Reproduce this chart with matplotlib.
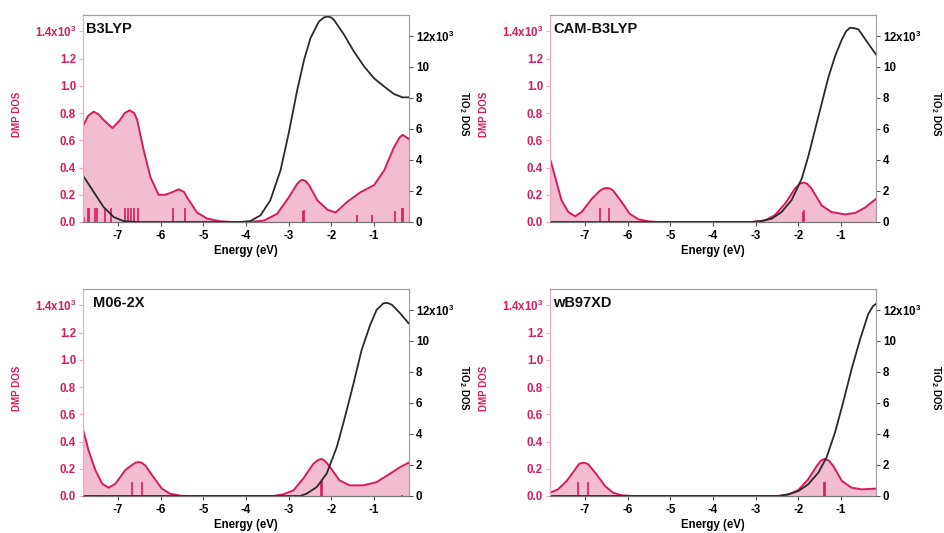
import numpy as np
import matplotlib
matplotlib.use("Agg")
import matplotlib.pyplot as plt

plt.rcParams['font.family'] = ['Liberation Sans', 'DejaVu Sans']
plt.rcParams['font.weight'] = 'bold'
plt.rcParams['axes.labelweight'] = 'bold'
plt.rcParams['mathtext.fontset'] = 'custom'
plt.rcParams['mathtext.rm'] = 'Liberation Sans:bold'
plt.rcParams['mathtext.bf'] = 'Liberation Sans:bold'
plt.rcParams['mathtext.default'] = 'rm'

# ---- data (energy in eV, DOS in units of 10^3) ----
titles = ['B3LYP', 'CAM-B3LYP', 'M06-2X', 'wB97XD']

b3lyp_dmp = [(-7.81, 0.71), (-7.70, 0.78), (-7.57, 0.81), (-7.45, 0.79), (-7.34, 0.75),
             (-7.13, 0.69), (-6.95, 0.75), (-6.84, 0.80), (-6.73, 0.82), (-6.62, 0.80),
             (-6.55, 0.75), (-6.40, 0.53), (-6.24, 0.33), (-6.05, 0.20), (-5.89, 0.20),
             (-5.72, 0.22), (-5.58, 0.24), (-5.45, 0.22), (-5.38, 0.18), (-5.15, 0.07),
             (-4.91, 0.025), (-4.60, 0.005), (-4.30, 0.0), (-3.97, 0.0), (-3.58, 0.01),
             (-3.27, 0.06), (-3.00, 0.18), (-2.80, 0.28), (-2.74, 0.30), (-2.68, 0.31),
             (-2.60, 0.30), (-2.52, 0.27), (-2.33, 0.16), (-2.09, 0.09), (-1.90, 0.07),
             (-1.62, 0.15), (-1.31, 0.22), (-1.00, 0.27), (-0.76, 0.38), (-0.53, 0.55),
             (-0.40, 0.62), (-0.33, 0.64), (-0.18, 0.61)]
b3lyp_tio2 = [(-7.81, 2.95), (-7.57, 1.94), (-7.34, 0.97), (-7.10, 0.32), (-6.87, 0.06),
              (-6.55, 0.0), (-4.13, 0.0), (-3.90, 0.06), (-3.66, 0.43), (-3.43, 1.4),
              (-3.19, 3.34), (-3.00, 5.71), (-2.80, 8.5), (-2.64, 10.45), (-2.49, 11.85),
              (-2.29, 12.93), (-2.17, 13.2), (-2.09, 13.25), (-2.01, 13.2), (-1.94, 13.04),
              (-1.70, 12.07), (-1.47, 10.99), (-1.23, 10.02), (-1.00, 9.27), (-0.76, 8.73),
              (-0.53, 8.25), (-0.33, 8.04), (-0.18, 8.04)]
b3lyp_sticks = [(-7.79, 0.04), (-7.71, 0.10), (-7.67, 0.10), (-7.53, 0.10), (-7.49, 0.10),
                (-7.30, 0.10), (-7.16, 0.10), (-6.84, 0.10), (-6.77, 0.10), (-6.69, 0.10),
                (-6.62, 0.10), (-6.54, 0.10), (-5.71, 0.10), (-5.43, 0.10), (-2.67, 0.08),
                (-2.65, 0.09), (-1.40, 0.05), (-1.04, 0.05), (-0.51, 0.08), (-0.35, 0.10),
                (-0.31, 0.10)]

cam_dmp = [(-7.82, 0.465), (-7.76, 0.40), (-7.70, 0.33), (-7.55, 0.16), (-7.39, 0.073),
           (-7.23, 0.042), (-7.08, 0.073), (-6.84, 0.17), (-6.65, 0.23), (-6.57, 0.245),
           (-6.49, 0.25), (-6.41, 0.245), (-6.34, 0.23), (-6.14, 0.147), (-5.95, 0.06),
           (-5.75, 0.02), (-5.52, 0.005), (-5.28, 0.0), (-3.09, 0.0), (-2.78, 0.012),
           (-2.55, 0.05), (-2.31, 0.135), (-2.08, 0.245), (-1.97, 0.28), (-1.88, 0.29),
           (-1.79, 0.28), (-1.69, 0.245), (-1.45, 0.12), (-1.22, 0.073), (-0.91, 0.056),
           (-0.67, 0.066), (-0.44, 0.105), (-0.18, 0.17)]
cam_tio2 = [(-7.82, 0.0), (-3.09, 0.0), (-2.86, 0.06), (-2.62, 0.22), (-2.39, 0.65),
            (-2.16, 1.4), (-1.92, 2.8), (-1.77, 4.2), (-1.61, 5.94), (-1.45, 7.67),
            (-1.30, 9.29), (-1.14, 10.69), (-0.98, 11.77), (-0.88, 12.3), (-0.79, 12.53),
            (-0.69, 12.5), (-0.59, 12.42), (-0.40, 11.66), (-0.18, 10.8)]
cam_sticks = [(-6.65, 0.10), (-6.43, 0.10), (-1.89, 0.07), (-1.86, 0.09)]

m06_dmp = [(-7.83, 0.50), (-7.76, 0.42), (-7.69, 0.334), (-7.53, 0.19), (-7.37, 0.09),
           (-7.22, 0.061), (-7.06, 0.09), (-6.83, 0.19), (-6.63, 0.237), (-6.58, 0.245),
           (-6.51, 0.249), (-6.44, 0.243), (-6.36, 0.224), (-6.17, 0.139), (-5.97, 0.054),
           (-5.78, 0.017), (-5.54, 0.002), (-5.30, 0.0), (-3.36, 0.0), (-3.13, 0.012),
           (-2.89, 0.041), (-2.66, 0.127), (-2.42, 0.237), (-2.32, 0.262), (-2.23, 0.273),
           (-2.14, 0.255), (-2.04, 0.217), (-1.81, 0.115), (-1.57, 0.078), (-1.25, 0.078),
           (-0.94, 0.102), (-0.63, 0.163), (-0.39, 0.212), (-0.19, 0.244)]
m06_tio2 = [(-7.83, 0.0), (-2.73, 0.0), (-2.58, 0.15), (-2.34, 0.58), (-2.11, 1.44),
            (-1.87, 3.17), (-1.68, 5.1), (-1.48, 7.26), (-1.29, 9.42), (-1.09, 11.03),
            (-0.94, 12.0), (-0.78, 12.43), (-0.68, 12.45), (-0.58, 12.33), (-0.39, 11.79),
            (-0.19, 11.14)]
m06_sticks = [(-6.67, 0.10), (-6.44, 0.10), (-2.24, 0.11), (-2.22, 0.11), (-0.35, 0.01)]

wb97_dmp = [(-7.82, 0.024), (-7.63, 0.049), (-7.43, 0.11), (-7.23, 0.195), (-7.14, 0.235),
            (-7.06, 0.244), (-6.99, 0.242), (-6.92, 0.232), (-6.73, 0.159), (-6.53, 0.073),
            (-6.34, 0.024), (-6.14, 0.005), (-5.90, 0.0), (-2.47, 0.0), (-2.23, 0.012),
            (-2.00, 0.044), (-1.77, 0.122), (-1.57, 0.22), (-1.47, 0.26), (-1.38, 0.273),
            (-1.29, 0.262), (-1.18, 0.22), (-0.98, 0.11), (-0.75, 0.061), (-0.52, 0.049),
            (-0.18, 0.054)]
wb97_tio2 = [(-7.82, 0.0), (-2.47, 0.0), (-2.23, 0.11), (-2.00, 0.32), (-1.77, 0.75),
             (-1.53, 1.51), (-1.34, 2.48), (-1.14, 4.1), (-0.95, 6.04), (-0.75, 8.2),
             (-0.55, 10.13), (-0.36, 11.75), (-0.25, 12.25), (-0.18, 12.39)]
wb97_sticks = [(-7.16, 0.10), (-6.92, 0.10), (-1.39, 0.10), (-1.37, 0.10)]

dmp_sets = [b3lyp_dmp, cam_dmp, m06_dmp, wb97_dmp]
tio2_sets = [b3lyp_tio2, cam_tio2, m06_tio2, wb97_tio2]
stick_sets = [b3lyp_sticks, cam_sticks, m06_sticks, wb97_sticks]

x_ticks = [-7, -6, -5, -4, -3, -2, -1]
left_ticks = [0.0, 0.2, 0.4, 0.6, 0.8, 1.0, 1.2, 1.4]
left_labels = ['0.0', '0.2', '0.4', '0.6', '0.8', '1.0', '1.2', r'1.4x10$^{3}$']
right_ticks = [0, 2, 4, 6, 8, 10, 12]
right_labels = ['0', '2', '4', '6', '8', '10', r'12x10$^{3}$']

# ---- styling ----
PINK = '#d81b60'
FILL = '#f2bcd1'
LSPINE = '#f4a6c6'
FRAME = '#a0a0a0'
xlim = (-7.82, -0.18)
ylim_l = (0, 1.52)
ylim_r = (0, 13.35)

W, H = 945, 533
fig = plt.figure(figsize=(W / 100, H / 100), dpi=100)
boxes = [(83, 15), (550, 15), (83, 289), (550, 289)]   # top-left corner in px
aw, ah = 326, 207
title_dx = [0.01, 0.01, 0.03, 0.01]
tio2_label_x = [1.168, 1.185, 1.168, 1.185]

for i in range(4):
    x0, y0 = boxes[i]
    ax = fig.add_axes([x0 / W, 1 - (y0 + ah) / H, aw / W, ah / H])
    ax2 = ax.twinx()

    e, d = np.array(dmp_sets[i]).T
    ax.fill_between(e, 0, d, color=FILL, lw=0)
    ax.plot(e, d, color=PINK, lw=1.4)
    se, sh = np.array(stick_sets[i]).T
    ax.vlines(se, 0, sh, color=PINK, lw=1.2)

    et, t = np.array(tio2_sets[i]).T
    ax2.plot(et, t, color='#2a2a2a', lw=1.3)

    ax.set_xlim(xlim)
    ax.set_ylim(ylim_l)
    ax2.set_ylim(ylim_r)
    ax.set_xticks(x_ticks)
    ax.set_xticklabels([str(v) for v in x_ticks])
    ax.set_yticks(left_ticks)
    ax.set_yticklabels(left_labels)
    ax2.set_yticks(right_ticks)
    ax2.set_yticklabels(right_labels)

    ax.tick_params(axis='x', direction='out', length=3, width=0.8, color='#555555',
                   labelsize=8.3, pad=3)
    ax.tick_params(axis='y', direction='out', length=3, width=0.8, color=LSPINE,
                   labelcolor=PINK, labelsize=8.3, pad=2)
    ax2.tick_params(axis='y', direction='out', length=3, width=0.8, color='#555555',
                    labelsize=8.3, pad=2)

    for a in (ax, ax2):
        a.spines['top'].set_color(FRAME)
        a.spines['right'].set_color(FRAME)
        a.spines['bottom'].set_color('#777777')
        a.spines['left'].set_color(LSPINE)
        for s in a.spines.values():
            s.set_linewidth(0.8)

    ax.set_xlabel('Energy (eV)', fontsize=8.3, labelpad=2)
    ax.set_ylabel('DMP DOS', color=PINK, fontsize=7)
    ax.yaxis.set_label_coords(-0.188, 0.52)
    ax2.set_ylabel(r'TiO$_{2}$ DOS', fontsize=7, rotation=270, va='center')
    ax2.yaxis.set_label_coords(tio2_label_x[i], 0.52)

    ax.text(title_dx[i], 0.965, titles[i], transform=ax.transAxes, ha='left', va='top',
            fontsize=10.5, fontweight='bold', color='#111111')

fig.savefig('out.png', dpi=100)
